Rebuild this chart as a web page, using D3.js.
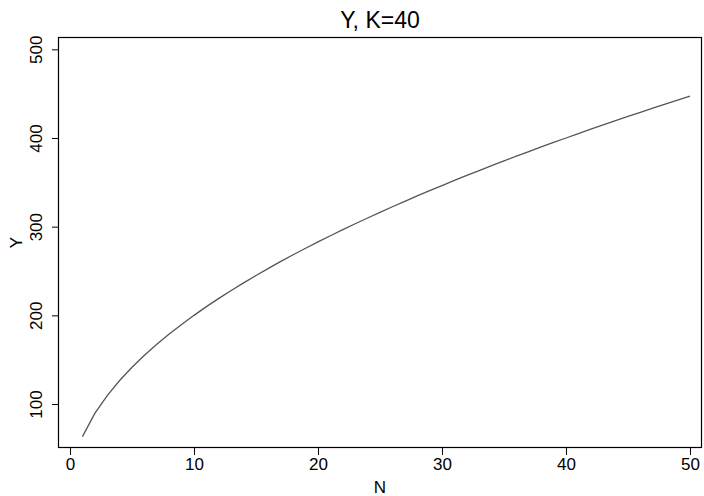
<!DOCTYPE html>
<html>
<head>
<meta charset="utf-8">
<script src="https://cdn.jsdelivr.net/npm/d3@7"></script>
<style>
  html, body { margin: 0; padding: 0; background: #fff; }
  svg { display: block; }
  text { font-family: "Liberation Sans", Arial, Helvetica, sans-serif; fill: #000; }
</style>
</head>
<body>
<svg id="chart" width="704" height="496"></svg>
<script>
const titleText = "Y, K=40";
const xLabel = "N";
const yLabel = "Y";
const nValues = [1,2,3,4,5,6,7,8,9,10,11,12,13,14,15,16,17,18,19,20,21,22,23,24,25,26,27,28,29,30,31,32,33,34,35,36,37,38,39,40,41,42,43,44,45,46,47,48,49,50];
const yValues = [63.2,89.4,109.5,126.5,141.4,154.9,167.3,178.9,189.7,200.0,209.8,219.1,228.0,236.6,244.9,253.0,260.8,268.3,275.7,282.8,289.8,296.6,303.3,309.8,316.2,322.5,328.6,334.7,340.6,346.4,352.1,357.8,363.3,368.8,374.2,379.5,384.7,389.9,395.0,400.0,405.0,409.9,414.7,419.5,424.3,429.0,433.6,438.2,442.7,447.2];
const xTicks = [0,10,20,30,40,50];
const yTicks = [100,200,300,400,500];

const svg = d3.select("#chart");
const box = {left: 58, right: 702, top: 37, bottom: 448};

const x = d3.scaleLinear().domain([-0.97, 50.97]).range([box.left, box.right]);
const y = d3.scaleLinear().domain([50.4, 513.9]).range([box.bottom, box.top]);

// frame
svg.append("rect")
  .attr("x", box.left + 0.5).attr("y", box.top + 0.5)
  .attr("width", box.right - box.left - 1).attr("height", box.bottom - box.top - 1)
  .attr("fill", "none").attr("stroke", "#000").attr("stroke-width", 1.2);

// axes
const xAxis = d3.axisBottom(x).tickValues(xTicks).tickSize(7).tickPadding(3).tickFormat(d3.format("d"));
const gx = svg.append("g").attr("transform", `translate(0,${box.bottom})`).call(xAxis);
gx.select(".domain").remove();
gx.selectAll("line").attr("stroke", "#000");
gx.selectAll("text").attr("font-size", 17).style("font-family", '"Liberation Sans", Arial, sans-serif');

const yAxis = d3.axisLeft(y).tickValues(yTicks).tickSize(6).tickPadding(4).tickFormat(d3.format("d"));
const gy = svg.append("g").attr("transform", `translate(${box.left},0)`).call(yAxis);
gy.select(".domain").remove();
gy.selectAll("line").attr("stroke", "#000");
gy.selectAll("text")
  .attr("font-size", 17)
  .style("font-family", '"Liberation Sans", Arial, sans-serif')
  .attr("text-anchor", "middle")
  .attr("x", null).attr("dy", null)
  .attr("transform", "translate(-22,0) rotate(-90)")
  .attr("dy", "0.35em");

// line
const line = d3.line().x((d, i) => x(nValues[i])).y(d => y(d));
svg.append("path")
  .datum(yValues)
  .attr("d", line)
  .attr("fill", "none")
  .attr("stroke", "#555")
  .attr("stroke-width", 1.3);

// title & labels
svg.append("text").attr("x", (box.left + box.right) / 2).attr("y", 28)
  .attr("text-anchor", "middle").attr("font-size", 23).text(titleText);
svg.append("text").attr("x", (box.left + box.right) / 2).attr("y", 493)
  .attr("text-anchor", "middle").attr("font-size", 17).text(xLabel);
svg.append("text").attr("transform", `translate(22,${(box.top + box.bottom) / 2}) rotate(-90)`)
  .attr("text-anchor", "middle").attr("font-size", 17).text(yLabel);
</script>
</body>
</html>
